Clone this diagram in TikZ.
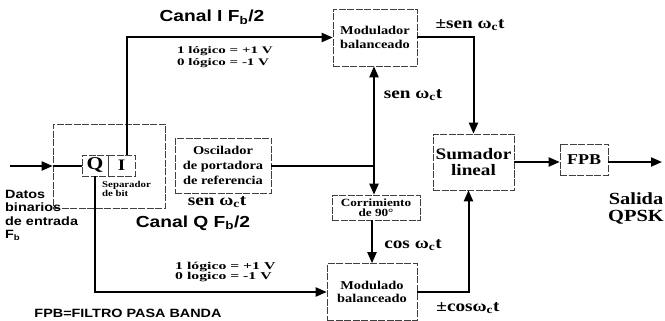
\documentclass[tikz,border=0pt]{standalone}
\usepackage{fontspec}
\setmainfont{Liberation Serif}[FakeStretch=1.2]
\setsansfont{Liberation Sans}[FakeStretch=1.2]
\newfontfamily\wideserif{Liberation Serif}[FakeStretch=1.5]
\usetikzlibrary{arrows.meta}
\begin{document}
\begin{tikzpicture}[x=1pt,y=-1pt,
  box/.style={draw=black!75, line width=0.55pt, dash pattern=on 7pt off 1.5pt, inner sep=0pt, align=center, font=\bfseries},
  conn/.style={line width=2pt},
  arr/.style={conn, -{Triangle[length=11pt,width=9pt]}},
  lbl/.style={inner sep=0pt, align=center},
  big/.style={lbl, font=\bfseries\fontsize{16}{18}\selectfont},
  sansbig/.style={lbl, font=\sffamily\bfseries\fontsize{16}{18}\selectfont}]
\useasboundingbox (0,0) rectangle (665,321);

% boxes
\node[box, minimum width=112pt, minimum height=84pt] (sep) at (109,166) {};
\node[box, minimum width=26pt, minimum height=21pt, font=\bfseries\fontsize{18}{18}\selectfont] (Q) at (95,165.5) {Q};
\node[box, minimum width=27pt, minimum height=21pt, font=\bfseries\fontsize{16}{16}\selectfont] (I) at (121.5,165.5) {I};
\node[box, minimum width=84pt, minimum height=57pt, font=\bfseries\fontsize{12}{14}\selectfont] (modI) at (375,37.5) {Modulador\\balanceado};
\node[box, minimum width=96pt, minimum height=55pt, font=\bfseries\fontsize{12}{15}\selectfont] (osc) at (223,165.5) {Oscilador\\de portadora\\de referencia};
\node[box, minimum width=88pt, minimum height=25pt, font=\bfseries\fontsize{11}{10}\selectfont] (corr) at (376,207.5) {Corrimiento\\de 90°};
\node[box, minimum width=90pt, minimum height=57pt, font=\bfseries\fontsize{12}{13}\selectfont] (modQ) at (372,292) {Modulado\\balanceado};
\node[box, minimum width=81pt, minimum height=56pt, font=\bfseries\fontsize{16}{15.5}\selectfont] (sum) at (473.5,162) {Sumador\\lineal};
\node[box, minimum width=48pt, minimum height=31pt, font=\bfseries\fontsize{15}{15}\selectfont] (fpb) at (584,159.5) {FPB};

% connectors
\coordinate (in) at (10,166);
\draw[arr] (in) -- (sep.west |- in);
\draw[conn] (sep.west |- in) -- (Q.west |- in);
\draw[arr] ([xshift=5pt]I.north) |- (modI.west);
\draw[arr] (Q.south) |- (modQ.west);
\coordinate (j) at (374,165.5);
\draw[conn] (osc.east) -- (j);
\draw[arr] (j) -- (j |- modI.south);
\draw[arr] (j) -- (j |- corr.north);
\draw[arr] (corr.south -| modQ.north) -- (modQ.north);
\draw[arr] (modI.east) -| (sum.north);
\draw[arr] (modQ.east) -| ([xshift=-5pt]sum.south);
\draw[arr] (sum.east) -- (sum.east -| fpb.west);
\coordinate (out) at (662,162);
\draw[arr] (fpb.east |- out) -- (out);

% labels
\node[sansbig] (canI) at (212,17) {Canal I F\textsubscript{b}/2};
\node[lbl, font=\wideserif\bfseries\fontsize{10}{12}\selectfont, align=left, anchor=west] (logI) at (177,57) {1 lógico = +1 V\\0 lógico = -1 V};
\node[big] (pmsen) at (470,25) {±sen ω\textsubscript{c}t};
\node[big] (senI) at (413,95) {sen ω\textsubscript{c}t};
\node[big] (senO) at (217,202) {sen ω\textsubscript{c}t};
\node[sansbig] (canQ) at (193,223) {Canal Q F\textsubscript{b}/2};
\node[lbl, font=\wideserif\bfseries\fontsize{10.5}{10}\selectfont, align=left, anchor=west] (logQ) at (175,272) {1 lógico = +1 V\\0 logico = -1 V};
\node[big] (cos) at (413,245) {cos ω\textsubscript{c}t};
\node[big] (pmcos) at (468,308) {±cosω\textsubscript{c}t};
\node[lbl, font=\bfseries\fontsize{17}{17}\selectfont] (salida) at (636,208) {Salida\\QPSK};
\node[lbl, font=\sffamily\bfseries\fontsize{12}{13.5}\selectfont, align=left, anchor=north west] (datos) at (5,190) {Datos\\binarios\\de entrada\\F\textsubscript{b}};
\node[lbl, font=\sffamily\bfseries\fontsize{12}{14}\selectfont] (note) at (128,313) {FPB=FILTRO PASA BANDA};
\node[lbl, font=\bfseries\fontsize{9}{9}\selectfont, align=left, anchor=north west] (sepl) at (102,181) {Separador\\de bit};
\end{tikzpicture}
\end{document}
